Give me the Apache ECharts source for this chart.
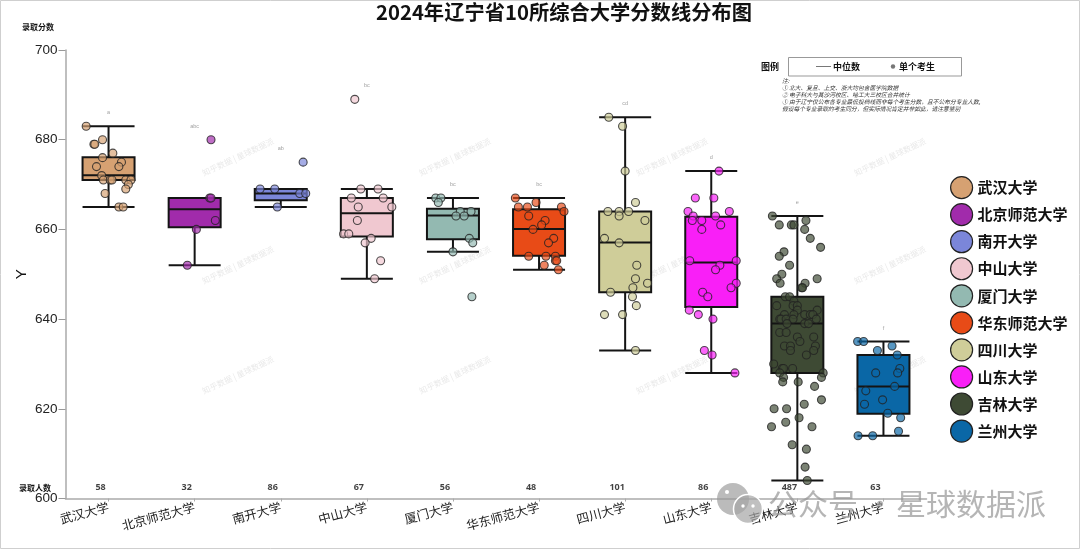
<!DOCTYPE html>
<html><head><meta charset="utf-8">
<style>html,body{margin:0;padding:0;background:#fff}#c{width:1080px;height:549px}</style>
<script src="https://cdn.jsdelivr.net/npm/echarts@6/dist/echarts.min.js"></script>
</head><body><div id="c"></div>
<script>
const categories=['武汉大学','北京师范大学','南开大学','中山大学','厦门大学','华东师范大学','四川大学','山东大学','吉林大学','兰州大学'];
const colors=['#d6a172','#a12bab','#7b86d9','#f0c8d0','#93b9b1','#e84b17','#cfcd99','#f91ff7','#3e4a34','#0a67a6'];
const counts=[58,32,86,67,56,48,101,86,487,63];
const sigLetters=['a','abc','ab','bc','bc','bc','cd','d','e','f'];
const sigValues=[686,683,678,692,670,670,688,676,666,638];
// [low whisker, q1, median, q3, high whisker]
const boxStats=[[665,671,672.1,676.1,683],[652,660.5,664.5,667,667],[665,666.5,668,669,669],[649,658.4,663.6,667,669],[655,657.8,663.1,664.6,667],[651,654.1,660.1,664.5,667],[633,646,657.1,664,685],[628,642.7,652.6,662.8,673],[604,628,639,645,663],[614,618.9,625,632,635]];
// each point: [jitter as a fraction of the category band, score]
const wuhan=[[-.26,683],[-.07,680],[-.17,679],[-.16,679],[.05,677],[-.07,676],[.15,675],[-.14,674],[.12,674],[-.08,672],[-.06,671],[.02,671],[.04,671],[.2,671],[.26,671],[.23,670],[.2,669],[-.04,668],[.12,665],[.17,665]];
const bnu=[[.19,680],[.175,667],[.19,667],[.24,662],[.02,660],[-.085,652]];
const nankai=[[.26,675],[-.24,669],[-.07,669],[.22,668],[.29,668],[-.04,665]];
const sysu=[[-.14,689],[-.07,669],[.13,669],[-.18,667],[.19,667],[-.1,665],[.29,665],[-.11,662],[-.27,659],[-.21,659],[.05,658],[-.02,657],[.16,653],[.09,649]];
const xmu=[[-.2,667],[-.14,667],[-.17,666],[.085,664],[.21,664],[.035,663],[.13,663],[.19,658],[.23,657],[0,655],[.22,645]];
const ecnu=[[-.275,667],[-.24,665],[-.135,665],[-.035,666],[.26,665],[.29,664],[-.12,663],[.07,662],[.03,661],[-.07,660],[.17,658],[.11,657],[-.12,654],[.08,654],[.19,654],[.19,653],[.205,653],[.06,652],[.225,651]];
const scu=[[-.19,685],[-.03,683],[0,673],[.12,666],[-.2,664],[-.07,664],[.04,664],[-.07,663],[.23,662],[-.24,658],[-.07,657],[.135,652],[.12,649],[.09,647],[.26,648],[-.17,646],[.085,645],[.13,643],[-.24,641],[-.03,641],[.12,633]];
const sdu=[[.09,673],[-.185,667],[.03,667],[-.27,664],[.21,664],[-.21,663],[.05,663],[-.22,662],[-.11,662],[.11,661],[-.11,660],[-.25,653],[.29,653],[.1,652],[.05,651],[.29,648],[.23,647],[-.1,646],[-.04,645],[-.255,642],[-.15,641],[.02,640],[-.08,633],[.01,632],[.275,628]];
const jlu=[[-.29,663],[.1,662],[-.21,661],[-.07,661],[-.04,661],[.085,660],[.15,658],[.27,656],[-.155,655],[-.21,654],[-.09,652],[-.18,650],[-.24,649],[.23,649],[-.2,648],[.09,648],[.05,647],[.06,647],[-.14,645],[-.09,645],[-.04,644],[-.05,643],[0,643],[-.24,643],[.23,642],[0,642],[-.15,641],[-.04,641],[.085,641],[.15,641],[.18,641],[-.205,640],[-.19,640],[-.13,640],[-.05,640],[.22,640],[-.12,639],[.085,639],[.13,639],[-.205,637],[-.13,637],[0,636],[.19,636],[.03,635],[-.15,634],[-.08,634],[.21,634],[-.08,633],[.19,633],[.105,632],[-.275,630],[-.175,629],[-.16,629],[-.055,629],[-.205,628],[.3,628],[-.16,627],[.28,627],[-.17,626],[.01,626],[.2,625],[.28,622],[.08,621],[-.27,620],[-.125,620],[.02,618],[-.135,617],[-.3,616],[.17,616],[-.06,612],[.105,611],[.09,607],[.115,604]];
const lzu=[[-.3,635],[-.23,635],[.1,634],[-.07,633],[.16,632],[.19,629],[.165,628],[-.09,628],[.13,625],[-.205,624],[-.01,622],[-.22,621],[.05,619],[.2,618],[.175,615],[-.295,614],[-.125,614]];
const allPoints=[wuhan,bnu,nankai,sysu,xmu,ecnu,scu,sdu,jlu,lzu];
const noteLines=['注:','① 北大、复旦、上交、浙大均包含医学院数据','② 电子科大与其沙河校区、哈工大三校区合并统计','① 由于辽宁仅公布各专业最低投档线而非每个考生分数，且不公布分专业人数,','假设每个专业录取的考生同分，但实际情况肯定并非如此，请注意鉴别'];
const wmX=[238,455,672,890], wmY=[157,265,375];

const CJK='"Noto Sans CJK SC","Noto Sans",sans-serif';
function alpha(hex,a){const n=parseInt(hex.slice(1),16);return `rgba(${n>>16},${(n>>8)&255},${n&255},${a})`;}
const series=[{
  type:'boxplot',xAxisIndex:0,yAxisIndex:0,silent:true,boxWidth:[52,52],z:2,
  data:boxStats.map((v,i)=>({value:v,itemStyle:{color:colors[i],borderColor:'#141414',borderWidth:2}}))
}];
allPoints.forEach((pts,i)=>series.push({
  type:'scatter',name:categories[i],xAxisIndex:1,yAxisIndex:0,symbolSize:8,z:3,silent:true,
  itemStyle:{color:alpha(colors[i],0.85),borderColor:'#222',borderWidth:1.1},
  data:pts.map(p=>[i+0.5+p[0],p[1]])
}));
series.push({type:'scatter',xAxisIndex:1,yAxisIndex:0,symbolSize:0,silent:true,z:4,
  data:sigValues.map((v,i)=>[i+0.5,v]),
  label:{show:true,position:'inside',formatter:p=>sigLetters[p.dataIndex],fontSize:5.5,color:'#888',fontFamily:'"Liberation Sans"'}});
series.push({type:'scatter',xAxisIndex:1,yAxisIndex:0,symbolSize:0,silent:true,z:4,
  data:counts.map((v,i)=>[i+0.5,602.4]),
  label:{show:true,position:'inside',offset:[-8,0],formatter:p=>String(counts[p.dataIndex]),fontSize:9,fontWeight:'bold',color:'#111',fontFamily:'"Open Sans"'}});

const graphic=[
 {type:'rect',silent:true,z:100,shape:{x:0.5,y:0.5,width:1079,height:548},style:{fill:'none',stroke:'#cfcfcf',lineWidth:1}},
 {type:'text',x:22,y:23,silent:true,style:{text:'录取分数',font:'bold 8px '+CJK,fill:'#111'}},
 {type:'text',x:19,y:484,silent:true,style:{text:'录取人数',font:'bold 8px '+CJK,fill:'#111'}},
 {type:'text',x:761,y:62,silent:true,style:{text:'图例',font:'bold 9px '+CJK,fill:'#111'}},
 {type:'rect',silent:true,shape:{x:788.5,y:57.5,width:173,height:18.5},style:{fill:'none',stroke:'#999',lineWidth:1}},
 {type:'line',silent:true,shape:{x1:816,y1:66.5,x2:831,y2:66.5},style:{stroke:'#555',lineWidth:0.8}},
 {type:'text',x:833,y:62,silent:true,style:{text:'中位数',font:'bold 9px '+CJK,fill:'#111'}},
 {type:'circle',silent:true,shape:{cx:893,cy:66.5,r:2.2},style:{fill:'#777'}},
 {type:'text',x:899,y:62,silent:true,style:{text:'单个考生',font:'bold 9px '+CJK,fill:'#111'}}
];
noteLines.forEach((t,i)=>graphic.push({type:'text',x:782,y:78+i*7,silent:true,style:{text:t,font:'italic 5.75px '+CJK,fill:'#333'}}));
wmX.forEach(x=>wmY.forEach(y=>graphic.push({type:'text',x:x,y:y,rotation:25*Math.PI/180,silent:true,z:0,
  style:{text:'知乎数据 | 星球数据派',font:'8px '+CJK,fill:'#e9e9e9',align:'center',verticalAlign:'middle'}})));
graphic.push(
 {type:'circle',silent:true,z:90,shape:{cx:733,cy:499,r:16},style:{fill:'rgba(150,150,150,0.65)'}},
 {type:'circle',silent:true,z:91,shape:{cx:748,cy:509,r:14.5},style:{fill:'rgba(165,165,165,0.7)',stroke:'#fff',lineWidth:1.5}},
 {type:'circle',silent:true,z:92,shape:{cx:743,cy:506,r:1.7},style:{fill:'#fff'}},
 {type:'circle',silent:true,z:92,shape:{cx:753,cy:506,r:1.7},style:{fill:'#fff'}},
 {type:'circle',silent:true,z:92,shape:{cx:727,cy:492,r:2},style:{fill:'#fff'}},
 {type:'text',x:768,y:489,silent:true,z:90,style:{text:'公众号',font:'30px '+CJK,fill:'rgba(150,150,150,0.7)'}},
 {type:'text',x:865,y:489,silent:true,z:90,style:{text:'·',font:'30px '+CJK,fill:'rgba(150,150,150,0.7)'}},
 {type:'text',x:896,y:489,silent:true,z:90,style:{text:'星球数据派',font:'30px '+CJK,fill:'rgba(150,150,150,0.7)'}}
);

const chart=echarts.init(document.getElementById('c'),null,{renderer:'canvas'});
chart.setOption({
 animation:false,backgroundColor:'#fff',
 title:{text:'2024年辽宁省10所综合大学分数线分布图',left:559,top:-3,textAlign:'center',textStyle:{fontFamily:CJK,fontSize:20.3,fontWeight:'bold',color:'#111'}},
 grid:{left:65.5,right:153.5,top:50,bottom:50.5,containLabel:false,outerBoundsMode:'none'},
 legend:{show:true,orient:'vertical',left:945,top:171,itemWidth:22,itemHeight:22,itemGap:3.85,selectedMode:false,
  textStyle:{fontFamily:CJK,fontSize:15,fontWeight:'bold',color:'#111',padding:[0,0,0,0]},
  data:categories.map((c,i)=>({name:c,icon:'circle',itemStyle:{color:colors[i],borderColor:'#222',borderWidth:1.2,opacity:1}}))},
 xAxis:[
  {type:'category',data:categories,position:'bottom',
   axisLine:{lineStyle:{color:'#aaa',width:1.5}},
   axisTick:{show:true,alignWithLabel:true,length:3,lineStyle:{color:'#aaa'}},
   axisLabel:{interval:0,rotate:15,fontSize:12.5,color:'#222',fontFamily:CJK,margin:8},
   splitLine:{show:false}},
  {type:'value',min:0,max:10,show:false,splitLine:{show:false}}
 ],
 yAxis:{type:'value',min:600,max:700,interval:20,name:'Y',nameLocation:'middle',nameGap:36,nameMoveOverlap:false,
  nameTextStyle:{fontSize:15,color:'#111',fontFamily:'"Liberation Sans"'},
  axisLine:{show:true,lineStyle:{color:'#aaa',width:1.5}},
  axisTick:{show:true,length:7,lineStyle:{color:'#999'}},
  axisLabel:{fontSize:13.5,color:'#222',fontFamily:'"Liberation Sans"',margin:8},
  splitLine:{show:false}},
 series:series,
 graphic:graphic
});
</script></body></html>
